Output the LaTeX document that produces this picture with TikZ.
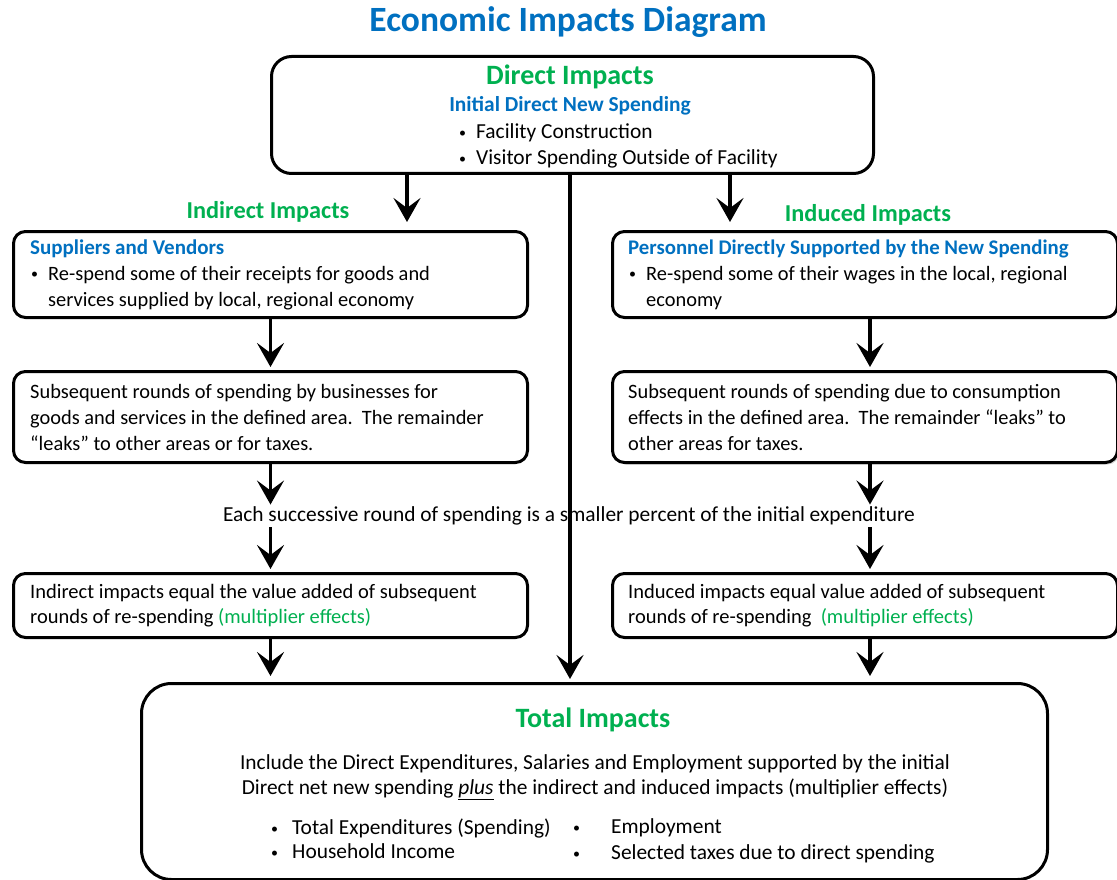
\documentclass[tikz,border=0pt]{standalone}
\usepackage{fontspec}
\setmainfont{Carlito}
\usetikzlibrary{arrows.meta,shadows}
\definecolor{tblue}{RGB}{0,112,192}
\definecolor{tgreen}{RGB}{0,176,80}
\newcommand{\smbul}[1]{\makebox[#1][l]{\hspace*{1pt}\raisebox{1.5pt}{\fontsize{14}{14}\selectfont •}}}
\begin{document}
\begin{tikzpicture}[x=1pt,y=-1pt,
  box/.style={draw, line width=3pt, rounded corners=12pt, anchor=north west, inner sep=0pt, fill=white},
  lbox/.style={box, minimum width=514pt},
  rbox/.style={box, minimum width=505pt},
  txt/.style={font=\fontsize{20.4}{26}\selectfont, align=left, inner sep=0pt, anchor=west},
  bigtxt/.style={font=\fontsize{21.4}{26}\selectfont, align=left, inner sep=0pt},
  head/.style={font=\fontsize{24.3}{28}\selectfont\bfseries, text=tgreen, inner sep=0pt},
  arr/.style={line width=3.6pt, -{Stealth[length=24pt,width=27pt,inset=10pt]}, shorten >=3pt}
]
\useasboundingbox (0,0) rectangle (1117,880);
% title
\node[font=\fontsize{35.5}{40}\selectfont\bfseries, text=tblue, inner sep=0pt] (title) at (568,22) {Economic Impacts Diagram};
% direct box
\node[draw, line width=3pt, rounded corners=20pt, anchor=north west, minimum width=602pt, minimum height=117pt, inner sep=0pt] (direct) at (270,55) {};
\node[font=\fontsize{28}{32}\selectfont\bfseries, text=tgreen, inner sep=0pt] (dtitle) at (570,77) {Direct Impacts};
\node[font=\fontsize{21.4}{26}\selectfont\bfseries, text=tblue, inner sep=0pt] (dsub) at (570,106) {Initial Direct New Spending};
\node[bigtxt, anchor=west] (dlist) at (458,146) {\smbul{18pt}Facility Construction\\\smbul{18pt}Visitor Spending Outside of Facility};
% headings
\node[head] (hind) at (268,212) {Indirect Impacts};
\node[head] (hinu) at (868,215) {Induced Impacts};
% left column
\node[lbox, minimum height=86pt] (lb1) at (12,230) {};
\node[txt] (lb1t) at ([xshift=18pt]lb1.west) {{\color{tblue}\bfseries\fontsize{21}{26}\selectfont Suppliers and Vendors}\\\smbul{18pt}Re-spend some of their receipts for goods and\\\hspace*{18pt}services supplied by local, regional economy};
\node[lbox, minimum height=91pt] (lb2) at (12,370) {};
\node[txt] (lb2t) at ([xshift=18pt]lb2.west) {Subsequent rounds of spending by businesses for\\goods and services in the defined area.\ \ The remainder\\“leaks” to other areas or for taxes.};
\node[lbox, minimum height=64pt] (lb3) at (12,572) {};
\node[txt, font=\fontsize{20.5}{25.5}\selectfont] (lb3t) at ([xshift=18pt]lb3.west) {Indirect impacts equal the value added of subsequent\\rounds of re-spending {\color{tgreen}(multiplier effects)}};
% right column
\node[rbox, minimum height=86pt] (rb1) at (611,230) {};
\node[txt] (rb1t) at ([xshift=17pt]rb1.west) {{\color{tblue}\bfseries\fontsize{20.8}{26}\selectfont Personnel Directly Supported by the New Spending}\\\smbul{18pt}Re-spend some of their wages in the local, regional\\\hspace*{18pt}economy};
\node[rbox, minimum height=91pt, drop shadow={opacity=0.35, shadow xshift=2pt, shadow yshift=-2pt}] (rb2) at (611,370) {};
\node[txt] (rb2t) at ([xshift=17pt]rb2.west) {Subsequent rounds of spending due to consumption\\effects in the defined area.\ \ The remainder “leaks” to\\other areas for taxes.};
\node[rbox, minimum height=64pt] (rb3) at (611,572) {};
\node[txt, font=\fontsize{20.5}{25.5}\selectfont] (rb3t) at ([xshift=17pt]rb3.west) {Induced impacts equal value added of subsequent\\rounds of re-spending\ \ {\color{tgreen}(multiplier effects)}};
% successive text
\node[bigtxt, inner ysep=2pt] (succ) at (569,516) {Each successive round of spending is a smaller percent of the initial expenditure};
% total box
\node[draw, line width=3pt, rounded corners=30pt, anchor=north west, minimum width=906pt, minimum height=196pt, inner sep=0pt] (total) at (140,682) {};
\node[font=\fontsize{28}{32}\selectfont\bfseries, text=tgreen, inner sep=0pt] (ttitle) at (593,720) {Total Impacts};
\node[bigtxt, align=center, font=\fontsize{21.4}{25}\selectfont] (tpara) at (595,777) {Include the Direct Expenditures, Salaries and Employment supported by the initial\\Direct net new spending \underline{\textit{plus}} the indirect and induced impacts (multiplier effects)};
\node[bigtxt, anchor=west, font=\fontsize{21.4}{24}\selectfont] (tl1) at (270,839) {\smbul{22pt}Total Expenditures (Spending)\\\smbul{22pt}Household Income};
\node[bigtxt, anchor=west] (tl2) at (572,841) {\smbul{39pt}Employment\\\smbul{39pt}Selected taxes due to direct spending};
% connectors
\coordinate (xl) at (407,0);
\coordinate (xr) at (730,0);
\coordinate (xc) at (570,0);
\coordinate (xR) at (870,0);
\draw[arr, shorten >=8pt] (direct.south -| xl) -- (lb1.north -| xl);
\draw[arr, shorten >=8pt] (direct.south -| xr) -- (rb1.north -| xr);
\draw[arr] (direct.south -| xc) -- (total.north -| xc);
\draw[arr] (lb1.south) -- (lb2.north);
\draw[arr, shorten >=0pt] (lb2.south) -- (succ.north -| lb2.south);
\draw[arr] (succ.south -| lb3.north) -- (lb3.north);
\draw[arr, shorten >=6pt] (lb3.south) -- (total.north -| lb3.south);
\draw[arr] (rb1.south -| xR) -- (rb2.north -| xR);
\draw[arr, shorten >=0pt] (rb2.south -| xR) -- (succ.north -| xR);
\draw[arr] (succ.south -| xR) -- (rb3.north -| xR);
\draw[arr, shorten >=6pt] (rb3.south -| xR) -- (total.north -| xR);
\end{tikzpicture}
\end{document}
